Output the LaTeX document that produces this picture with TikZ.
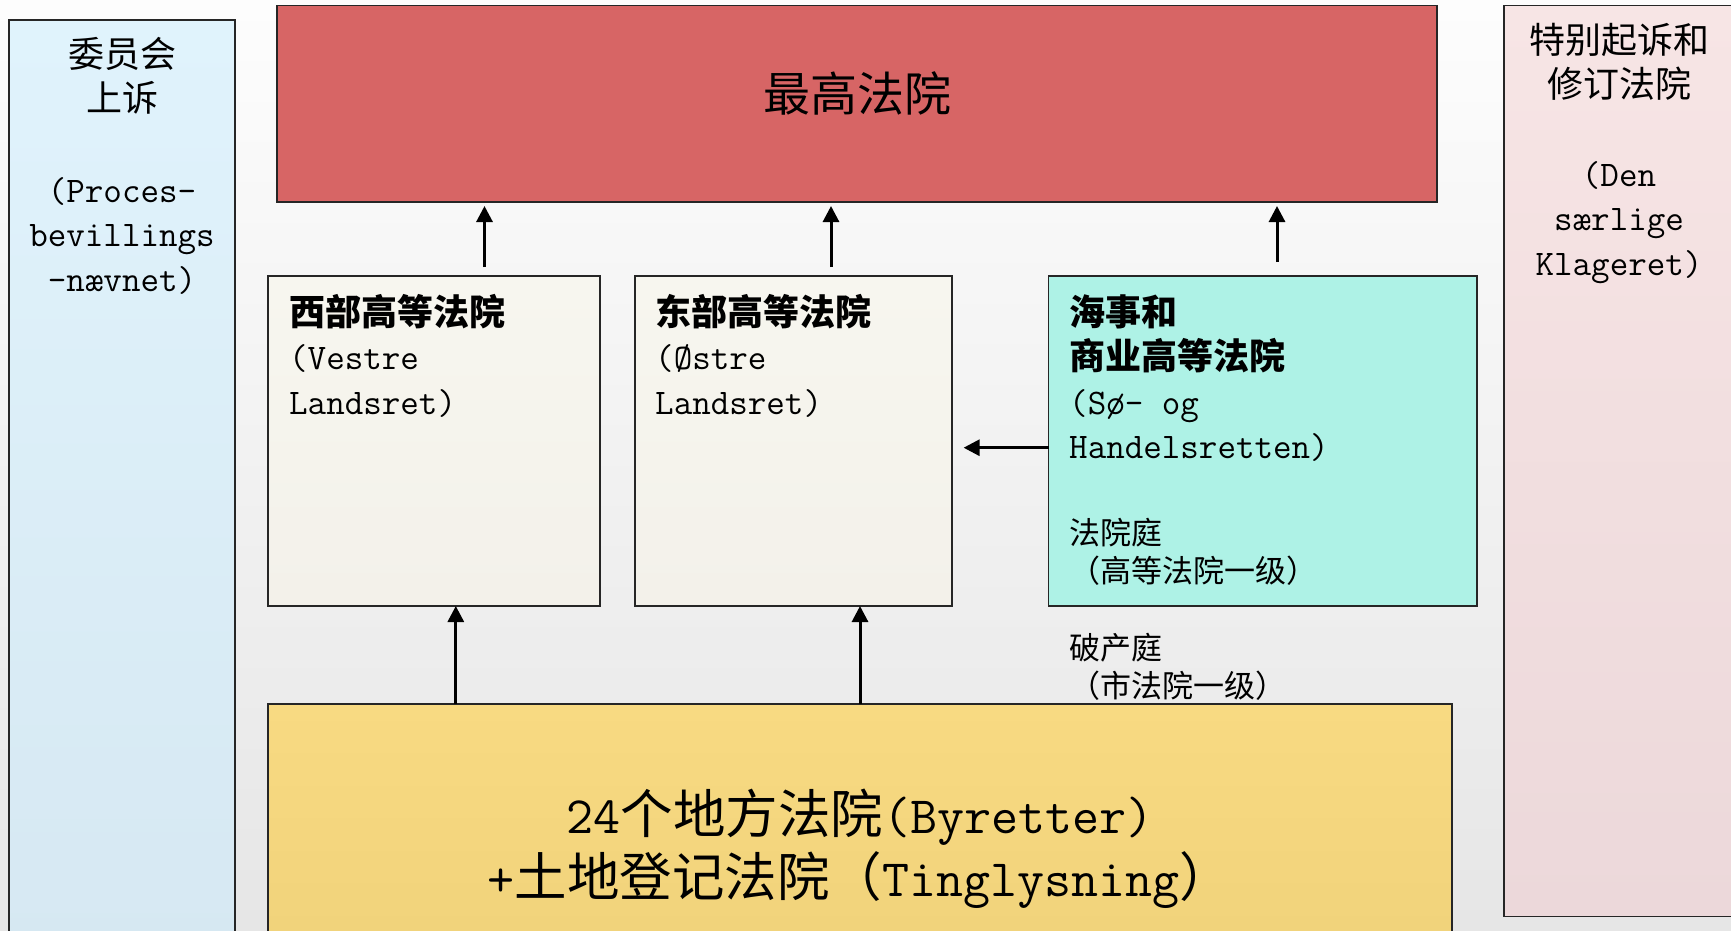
\documentclass[tikz,border=0pt]{standalone}
\usepackage{fontspec}
\setmainfont{Noto Sans CJK SC}
\usetikzlibrary{arrows.meta,positioning}
\definecolor{bgtop}{RGB}{253,253,253}
\definecolor{bgbot}{RGB}{230,230,230}
\definecolor{supremefill}{RGB}{215,101,101}
\definecolor{appealtop}{RGB}{224,243,252}
\definecolor{appealbot}{RGB}{214,232,242}
\definecolor{specialtop}{RGB}{247,229,229}
\definecolor{specialbot}{RGB}{236,216,218}
\definecolor{courttop}{RGB}{247,246,239}
\definecolor{courtbot}{RGB}{243,241,234}
\definecolor{seafill}{RGB}{174,242,230}
\definecolor{localtop}{RGB}{248,218,130}
\definecolor{localbot}{RGB}{240,210,122}

\begin{document}
\begin{tikzpicture}[x=1pt,y=-1pt,
  box/.style={rectangle,draw=black!85,line width=1.8pt,inner sep=0pt,outer sep=0pt,anchor=north west},
  court/.style={box,top color=courttop,bottom color=courtbot,minimum width=332pt,minimum height=330pt},
  txt/.style={inner sep=0pt,font=\fontsize{36}{44.5}\selectfont},
  small/.style={inner sep=0pt,font=\fontsize{31}{38}\selectfont,anchor=north west,align=left},
  up/.style={-{Triangle[length=16pt,width=16pt]},line width=3pt}]
  \useasboundingbox (0,0) rectangle (1731,930);
  \clip (0,0) rectangle (1731,930);
  \shade[top color=bgtop,bottom color=bgbot] (0,0) rectangle (1731,930);

  % side boxes
  \node[box,top color=appealtop,bottom color=appealbot,minimum width=226pt,minimum height=940pt] (appeal) at (9,20) {};
  \node[box,top color=specialtop,bottom color=specialbot,minimum width=230pt,minimum height=911pt] (special) at (1504,5.5) {};

  % courts
  \node[box,fill=supremefill,minimum width=1160pt,minimum height=196.5pt] (supreme) at (277,5.5) {};
  \node[court] (west) at (268,276) {};
  \node[court,minimum width=317pt] (east) [right=35pt of west] {};
  \node[box,fill=seafill,minimum width=428.5pt,minimum height=330pt] (sea) [right=96.5pt of east] {};
  \node[box,top color=localtop,bottom color=localbot,minimum width=1184pt,minimum height=260pt] (local) at (268,704) {};

  % texts
  \node[txt,anchor=north,align=center] (appealtxt) at ([yshift=-17pt]appeal.north)
    {委员会\\上诉\\[46pt]\ttfamily(Proces-\\\ttfamily bevillings\\\ttfamily -nævnet)};
  \node[txt,anchor=north,align=center] (specialtxt) at ([yshift=-17.5pt]special.north)
    {特别起诉和\\修订法院\\[44pt]\ttfamily(Den\\\ttfamily særlige\\\ttfamily Klageret)};
  \node[font=\fontsize{47}{50}\selectfont,inner sep=0pt] (supremetxt) at ([yshift=10pt]supreme.center) {最高法院};
  \node[txt,anchor=north west,align=left] (westtxt) at ([xshift=21pt,yshift=-18pt]west.north west)
    {\bfseries 西部高等法院\\\ttfamily(Vestre\\\ttfamily Landsret)};
  \node[txt,anchor=north west,align=left] (easttxt) at ([xshift=20pt,yshift=-18pt]east.north west)
    {\bfseries 东部高等法院\\\ttfamily(Østre\\\ttfamily Landsret)};
  \node[txt,anchor=north west,align=left] (seatxt) at ([xshift=20.5pt,yshift=-18pt]sea.north west)
    {\bfseries 海事和\\\bfseries 商业高等法院\\\ttfamily(Sø- og\\\ttfamily Handelsretten)};
  \node[small] (seasub) at ([xshift=20.5pt,yshift=-242pt]sea.north west) {法院庭\\（高等法院一级）};
  \node[small] (bankr) at ([xshift=20.5pt,yshift=-27pt]sea.south west) {破产庭\\（市法院一级）};
  \node[inner sep=0pt,font=\fontsize{52.5}{63}\selectfont,align=center] (localtxt) at (860,849)
    {{\ttfamily 24}个地方法院{\ttfamily(Byretter)}\\{\ttfamily+}土地登记法院（{\ttfamily Tinglysning}）};

  % appeals
  \coordinate (wu) at ([xshift=50.5pt]west.north);
  \coordinate (eu) at ([xshift=37.5pt]east.north);
  \coordinate (su) at ([xshift=14.25pt]sea.north);
  \draw[up,shorten <=9pt,shorten >=4pt] (wu) -- (wu |- supreme.south);
  \draw[up,shorten <=9pt,shorten >=4pt] (eu) -- (eu |- supreme.south);
  \draw[up,shorten <=14pt,shorten >=4pt] (su) -- (su |- supreme.south);
  \coordinate (sl) at ([yshift=-6.7pt]sea.west);
  \draw[up,shorten >=11.6pt] (sl) -- (sl -| east.east);
  \coordinate (wd) at ([xshift=21.8pt]west.south);
  \draw[up] (wd |- local.north) -- (wd);
  \draw[up] (local.north) -- (local.north |- east.south);
\end{tikzpicture}
\end{document}
